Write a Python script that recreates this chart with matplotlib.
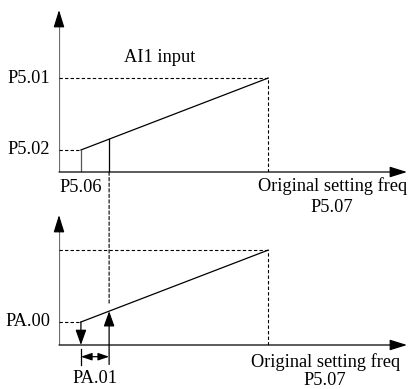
import matplotlib
matplotlib.use("Agg")
import matplotlib.pyplot as plt
from matplotlib.patches import ConnectionPatch

plt.rcParams["font.family"] = ["Liberation Serif", "DejaVu Serif"]
plt.rcParams["font.size"] = 13.2

# schematic values, percent of axis length
x_min_input = 6.3      # P5.06
x_cut = 14.4           # P5.06 + PA.01
x_max_input = 60.1     # P5.07
y_top_low = 13.6       # P5.02
y_top_high = 58.0      # P5.01
y_bot_low = 17.7       # PA.00
y_bot_high = 73.0

top_left_labels = ["P5.01", "P5.02"]
bot_left_labels = ["PA.00"]
x_axis_label = "Original setting freq"
x_axis_value = "P5.07"

fig = plt.figure(figsize=(4.10, 3.89), dpi=100)
ax_top = fig.add_axes([59 / 410, 1 - 172 / 389, 348 / 410, 162 / 389])
ax_bot = fig.add_axes([59 / 410, 1 - 345 / 389, 348 / 410, 130 / 389])

arrow_kw = dict(arrowstyle="-|>,head_length=0.7,head_width=0.25", lw=0.9, shrinkA=0, shrinkB=0)
head_kw = dict(arrowstyle="-|>,head_length=0.8,head_width=0.25", color="black",
               lw=0.9, shrinkA=0, shrinkB=0)


def draw_axes(ax, label_x, label_y, value_y):
    ax.set_xlim(0, 100)
    ax.set_ylim(0, 100)
    ax.axis("off")
    # x axis
    ax.annotate("", xy=(100, 0), xytext=(0, 0), arrowprops=head_kw, annotation_clip=False)
    # y axis: gray shaft, black head
    ax.plot([0, 0], [0, 95], color="#707070", lw=1.6, solid_capstyle="butt")
    ax.annotate("", xy=(0, 100), xytext=(0, 90), arrowprops=head_kw, annotation_clip=False)
    ax.text(label_x, label_y, x_axis_label, ha="center", va="center", clip_on=False)
    ax.text(label_x, value_y, x_axis_value, ha="center", va="center", clip_on=False)


draw_axes(ax_top, 78.5, -8.8, -21.8)
draw_axes(ax_bot, 76.5, -12.8, -27.4)

dash = dict(color="black", lw=0.8, ls=(0, (3, 2)))

# top panel
ax_top.plot([x_min_input, x_max_input], [y_top_low, y_top_high], color="black", lw=0.9)
ax_top.plot([0, x_max_input], [y_top_high, y_top_high], **dash)
ax_top.plot([x_max_input, x_max_input], [0, y_top_high], **dash)
ax_top.plot([0, x_min_input], [y_top_low, y_top_low], **dash)
ax_top.plot([x_min_input, x_min_input], [0, y_top_low], color="#555555", lw=0.9)
y_cut_top = y_top_low + (y_top_high - y_top_low) * (x_cut - x_min_input) / (x_max_input - x_min_input)
ax_top.plot([x_cut, x_cut], [0, y_cut_top], color="black", lw=0.9)
for lab, yv in zip(top_left_labels, [y_top_high, y_top_low]):
    ax_top.annotate(lab, xy=(0, yv), xytext=(-6.5, 0), textcoords="offset points",
                    ha="right", va="center", annotation_clip=False)
ax_top.text(29, 70.5, "AI1 input", ha="center", va="center")
ax_top.annotate("P5.06", xy=(x_min_input, 0), xytext=(0, -11.5), textcoords="offset points",
                ha="center", va="center", annotation_clip=False)

# bottom panel
ax_bot.plot([x_min_input, x_max_input], [y_bot_low, y_bot_high], color="black", lw=0.9)
ax_bot.plot([0, x_max_input], [y_bot_high, y_bot_high], **dash)
ax_bot.plot([x_max_input, x_max_input], [0, y_bot_high], **dash)
ax_bot.plot([0, x_min_input], [y_bot_low, y_bot_low], **dash)
y_cut_bot = y_bot_low + (y_bot_high - y_bot_low) * (x_cut - x_min_input) / (x_max_input - x_min_input)
ax_bot.annotate("", xy=(x_min_input, 0), xytext=(x_min_input, y_bot_low),
                arrowprops=dict(color="black", **arrow_kw), annotation_clip=False)
ax_bot.annotate("", xy=(x_cut, y_cut_bot), xytext=(x_cut, -15),
                arrowprops=dict(color="black", **arrow_kw), annotation_clip=False)
ax_bot.plot([x_min_input, x_min_input], [-3, -15], color="black", lw=0.9, clip_on=False)
ax_bot.annotate("", xy=(x_min_input, -9), xytext=(x_cut, -9),
                arrowprops=dict(arrowstyle="<|-|>,head_length=0.5,head_width=0.17",
                                color="black", lw=0.9, shrinkA=0, shrinkB=0),
                annotation_clip=False)
for lab, yv in zip(bot_left_labels, [y_bot_low]):
    ax_bot.annotate(lab, xy=(0, yv), xytext=(-6.5, 0), textcoords="offset points",
                    ha="right", va="center", annotation_clip=False)
ax_bot.text((x_min_input + x_cut) / 2, -25.5, "PA.01", ha="center", va="center", clip_on=False)

# dashed link between the panels
con = ConnectionPatch(xyA=(x_cut, 0), coordsA=ax_top.transData,
                      xyB=(x_cut, y_cut_bot + 6), coordsB=ax_bot.transData,
                      color="black", lw=0.8, ls=(0, (3, 2)))
fig.add_artist(con)

fig.savefig("out.png", dpi=100)
